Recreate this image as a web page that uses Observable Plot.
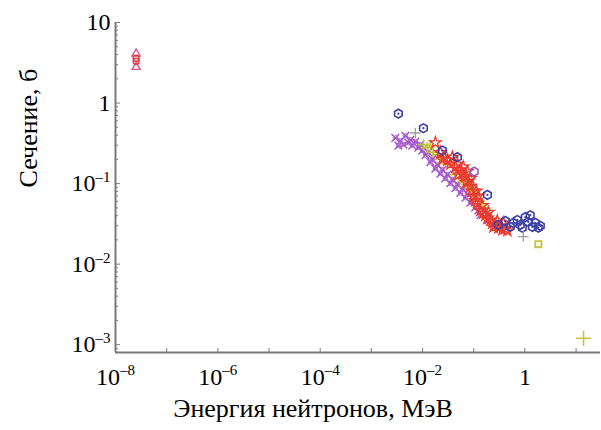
<!DOCTYPE html>
<html><head><meta charset="utf-8">
<script src="https://cdn.jsdelivr.net/npm/d3@7"></script>
<script src="https://cdn.jsdelivr.net/npm/@observablehq/plot@0.6"></script>
<style>
body{margin:0;background:#fff}
#chart svg{display:block}
</style></head><body><div id="chart"></div>
<script>
// ---- axis definitions ----
const xDomain = [1e-8, 30];
const yDomain = [8e-4, 10];
const xDecadeTicks = [1e-8,1e-7,1e-6,1e-5,1e-4,1e-3,1e-2,1e-1,1,10];
const xTickValues = [1e-8,1e-6,1e-4,1e-2,1];
const xTickLabels = ["10^–8","10^–6","10^–4","10^–2","1"];
const yTickValues = [1e-3,1e-2,1e-1,1,10];
const yTickLabels = ["10^–3","10^–2","10^–1","1","10"];
const yMinorTicks = [8e-4,9e-4,2e-3,3e-3,4e-3,5e-3,6e-3,7e-3,8e-3,9e-3,
  0.02,0.03,0.04,0.05,0.06,0.07,0.08,0.09,0.2,0.3,0.4,0.5,0.6,0.7,0.8,0.9,2,3,4,5,6,7,8,9];
const xTitle = "Энергия нейтронов, МэВ";
const yTitle = "Сечение, б";

// ---- data (energy MeV, cross-section b) ----
const thermalPinkE = [2.53e-8, 2.53e-8];
const thermalPinkS = [4.1, 2.8];
const thermalRedE = [2.53e-8, 2.53e-8];
const thermalRedS = [3.6, 3.3];

const blueE = [0.00337,0.0104,0.0244,0.0479,0.185,0.302,0.414,0.519,0.593,0.711,0.813,0.889,1.02,1.16,1.27,1.40,1.60,1.83,2.00];
const blueS = [0.738,0.487,0.258,0.213,0.0724,0.0307,0.0344,0.0290,0.0325,0.0353,0.0307,0.0283,0.0383,0.0334,0.0405,0.0290,0.0325,0.0283,0.0299];

const violetE = [0.102];
const violetS = [0.141];

const purpleE = [0.00294,0.00337,0.00368,0.00422,0.00461,0.00528,0.00578,0.00632,0.00723,0.00828,0.00906,0.0099,0.0114,0.0130,0.0142,0.0155,0.0178,0.0195,0.0223,0.0244,0.0279,0.0305,0.0349,0.0382,0.0438,0.0479,0.0547,0.0598,0.0686,0.0750,0.0859,0.0940,0.107,0.123,0.135,0.193];
const purpleS = [0.370,0.296,0.340,0.305,0.391,0.322,0.350,0.296,0.331,0.280,0.305,0.258,0.225,0.244,0.185,0.201,0.153,0.171,0.133,0.149,0.116,0.129,0.101,0.113,0.0879,0.098,0.0765,0.0855,0.0667,0.0744,0.0581,0.0648,0.0505,0.0465,0.0405,0.0353];

const redE = [0.0178,0.0223,0.0244,0.0267,0.0305,0.0349,0.0382,0.0438,0.0479,0.0501,0.0547,0.0598,0.0626,0.0686,0.0718,0.0750,0.0785,0.0859,0.0859,0.0940,0.0982,0.107,0.112,0.117,0.123,0.135,0.147,0.154,0.169,0.185,0.193,0.211,0.231,0.242,0.264,0.289,0.302,0.331,0.362,0.378,0.414,0.453];
const redS = [0.322,0.244,0.201,0.213,0.196,0.175,0.213,0.161,0.175,0.129,0.149,0.133,0.161,0.122,0.104,0.141,0.107,0.116,0.0929,0.0809,0.0704,0.0613,0.0809,0.0565,0.0704,0.0465,0.0534,0.0428,0.0405,0.0373,0.0440,0.0353,0.0325,0.0290,0.0307,0.0344,0.0283,0.0290,0.0267,0.0325,0.0275,0.0260];

const yellowE = [0.0104,0.0124,0.0142,0.0162,0.0195,0.0223,0.0255,0.0305,0.0438,0.0547,0.0626,0.0718,0.0859,0.0982,0.112,0.129,0.147,0.169];
const yellowS = [0.305,0.280,0.296,0.244,0.231,0.201,0.213,0.175,0.129,0.116,0.107,0.098,0.0879,0.0809,0.0704,0.0613,0.0565,0.0491];
const yellowSquareE = [1.83];
const yellowSquareS = [0.0177];
const yellowPlusE = [14];
const yellowPlusS = [0.0012];

const grayE = [0.00723, 0.931];
const grayS = [0.425, 0.0220];

const rows = (E, S) => E.map((e, i) => ({E: e, S: S[i]}));

const serif = '"Liberation Serif","Times New Roman","DejaVu Serif",serif';
const axisGray = "#7a7a7a";

const chart = Plot.plot({
  width: 601, height: 430,
  marginLeft: 115, marginRight: 1, marginTop: 22, marginBottom: 78,
  style: {fontFamily: serif, fontSize: "24px", color: "#000", background: "#fff"},
  x: {type: "log", domain: xDomain},
  y: {type: "log", domain: yDomain},
  marks: [
    // axis lines
    Plot.ruleX([xDomain[0]], {stroke: axisGray, strokeWidth: 2}),
    Plot.ruleY([yDomain[0]], {stroke: axisGray, strokeWidth: 2}),
    // x ticks (inward) and labels
    Plot.axisX(xDecadeTicks, {tickSize: -4, fill: "none", stroke: axisGray, label: null}),
    Plot.axisX(xTickValues, {tickSize: 0, tickPadding: 15, stroke: "none", fill: "#000", label: null,
      tickFormat: d => xTickLabels[xTickValues.indexOf(d)]}),
    // y ticks (inward) and labels
    Plot.axisY(yTickValues, {tickSize: -5, fill: "none", stroke: axisGray, label: null}),
    Plot.axisY(yMinorTicks, {tickSize: -3, fill: "none", stroke: axisGray, label: null}),
    Plot.axisY(yTickValues, {tickSize: 0, tickPadding: 5, stroke: "none", fill: "#000", label: null,
      tickFormat: d => yTickLabels[yTickValues.indexOf(d)]}),
    // axis titles
    Plot.text([xTitle], {text: d => d, frameAnchor: "bottom", dy: 64, dx: -45, fontSize: 26, fill: "#000"}),
    Plot.text([yTitle], {text: d => d, frameAnchor: "left", rotate: -90, dx: -87, fontSize: 26, fill: "#000"}),
    // data
    Plot.dot(rows(purpleE, purpleS), {x: "E", y: "S", symbol: "times", r: 3.6, stroke: "#a350c8", strokeWidth: 1.4}),
    Plot.dot(rows(purpleE, purpleS), {x: "E", y: "S", symbol: "circle", r: 2.2, fill: "none", stroke: "#b06ad0", strokeWidth: 1}),
    Plot.dot(rows(yellowE, yellowS), {x: "E", y: "S", symbol: "plus", r: 3.6, stroke: "#c0c23a", strokeWidth: 1.6}),
    Plot.dot(rows(redE, redS), {x: "E", y: "S", symbol: "star", r: 3.6, fill: "none", stroke: "#ea3a30", strokeWidth: 1.3}),
    Plot.dot(rows(violetE, violetS), {x: "E", y: "S", symbol: "hexagon", r: 3.8, fill: "none", stroke: "#8e5cc6", strokeWidth: 1.6}),
    Plot.dot(rows(blueE, blueS), {x: "E", y: "S", symbol: "hexagon", r: 3.8, fill: "none", stroke: "#3d3fa8", strokeWidth: 1.6}),
    Plot.dot(rows(blueE, blueS), {x: "E", y: "S", r: 1.1, fill: "#3d3fa8", stroke: "none"}),
    Plot.dot(rows(grayE, grayS), {x: "E", y: "S", symbol: "plus", r: 3.5, stroke: "#a0a0a0", strokeWidth: 1.3}),
    Plot.dot(rows(yellowSquareE, yellowSquareS), {x: "E", y: "S", symbol: "square", r: 3.5, fill: "none", stroke: "#c4c43a", strokeWidth: 1.8}),
    Plot.dot(rows(yellowPlusE, yellowPlusS), {x: "E", y: "S", symbol: "plus", r: 5, stroke: "#c8c440", strokeWidth: 1.6}),
    Plot.dot(rows(thermalPinkE, thermalPinkS), {x: "E", y: "S", symbol: "triangle", r: 3, fill: "none", stroke: "#e0508a", strokeWidth: 1.4}),
    Plot.dot(rows(thermalRedE, thermalRedS), {x: "E", y: "S", symbol: "circle", r: 3, fill: "none", stroke: "#e03a40", strokeWidth: 1.4})
  ]
});

// superscript exponents in tick labels
const ns = "http://www.w3.org/2000/svg";
chart.querySelectorAll("text").forEach(t => {
  const s = t.textContent;
  const i = s.indexOf("^");
  if (i < 0) return;
  const base = s.slice(0, i), exp = s.slice(i + 1);
  t.textContent = "";
  const a = document.createElementNS(ns, "tspan");
  a.textContent = base;
  const b = document.createElementNS(ns, "tspan");
  b.textContent = exp;
  b.setAttribute("font-size", "15px");
  b.setAttribute("dy", "-0.62em");
  t.append(a, b);
});

document.getElementById("chart").append(chart);
</script>
</body></html>
